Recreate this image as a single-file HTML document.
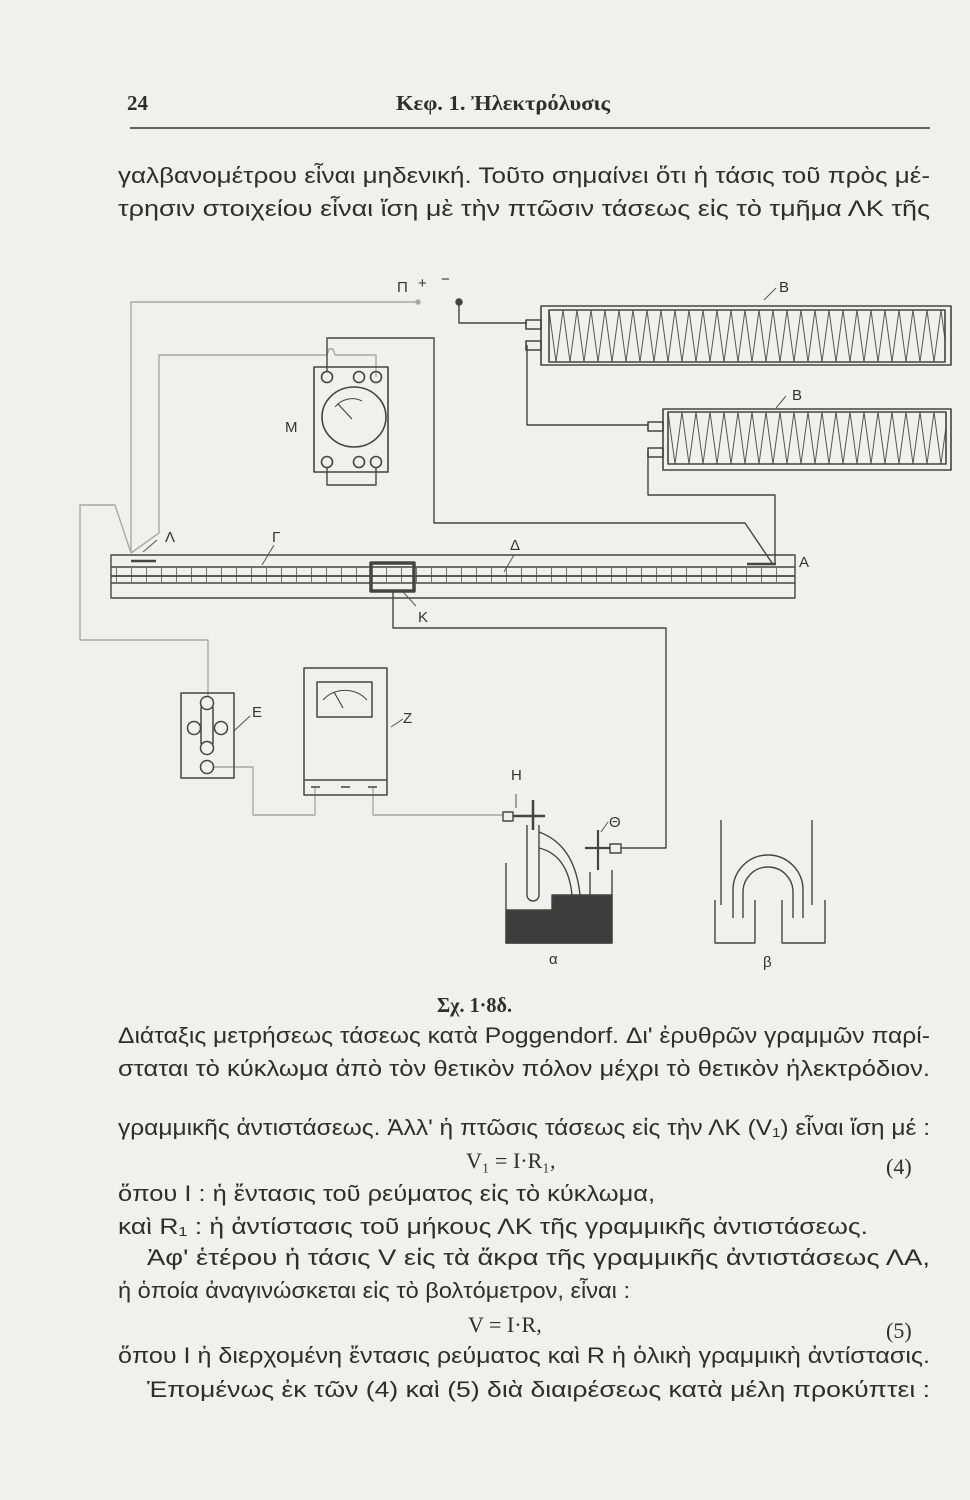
<!DOCTYPE html>
<html><head><meta charset="utf-8"><style>
html,body{margin:0;padding:0;background:#f0f0ee;}
svg{display:block}
.t{font-family:"Liberation Sans","DejaVu Sans",sans-serif;font-size:22px;fill:#2e2e2e}
.s{font-family:"Liberation Serif","DejaVu Serif",serif;fill:#2e2e2e}
.l{font-family:"Liberation Sans","DejaVu Sans",sans-serif;font-size:15px;fill:#333}
</style></head><body>
<svg width="970" height="1500" viewBox="0 0 970 1500" xmlns="http://www.w3.org/2000/svg">
<defs>
<pattern id="z1" x="549" y="310" width="14" height="52" patternUnits="userSpaceOnUse"><polyline points="0,0 7,52 14,0" fill="none" stroke="#555" stroke-width="1"/></pattern>
<pattern id="z2" x="668" y="412" width="14" height="52" patternUnits="userSpaceOnUse"><polyline points="0,0 7,52 14,0" fill="none" stroke="#555" stroke-width="1"/></pattern>
<pattern id="tk" x="116" y="568" width="15" height="15" patternUnits="userSpaceOnUse"><line x1="0.5" y1="0" x2="0.5" y2="15" stroke="#777" stroke-width="1"/></pattern>
</defs>
<rect width="970" height="1500" fill="#f0f0ee"/>
<!-- header -->
<text x="127" y="110" class="s" font-size="21" font-weight="bold">24</text>
<text x="396" y="110" class="s" font-size="21" font-weight="bold" textLength="214" lengthAdjust="spacingAndGlyphs">Κεφ. 1. Ἠλεκτρόλυσις</text>
<line x1="130" y1="128" x2="930" y2="128" stroke="#333" stroke-width="1.5"/>
<text x="118" y="183" class="t" textLength="812" lengthAdjust="spacingAndGlyphs">γαλβανομέτρου εἶναι μηδενική. Τοῦτο σημαίνει ὅτι ἡ τάσις τοῦ πρὸς μέ-</text>
<text x="118" y="216" class="t" textLength="812" lengthAdjust="spacingAndGlyphs">τρησιν στοιχείου εἶναι ἴση μὲ τὴν πτῶσιν τάσεως εἰς τὸ τμῆμα ΛΚ τῆς</text>

<!-- diagram -->
<g fill="none" stroke-linejoin="round">
<g stroke="#a8a8a8" stroke-width="1.4">
<polyline points="418,302 131,302 131,553"/>
<circle cx="418" cy="302" r="2" fill="#a8a8a8"/>
<polyline points="376,377 376,355 335,355 333,349 329,349 327,355 159,355 159,533 131,553"/>
<polyline points="80,640 80,505 115,505 131,553"/>
<polyline points="80,640 208,640 208,696"/>
<polyline points="214,767 253,767 253,815 315,815 315,787"/>
<polyline points="373,787 373,815 503,815"/>
</g>
<g stroke="#444" stroke-width="1.4">
<circle cx="459" cy="302" r="3" fill="#444"/>
<polyline points="459,302 459,323 527,323"/>
<polyline points="527,345 527,425 648,425"/>
<polyline points="648,452 648,495 775,495 775,565"/>
<polyline points="327,371 327,338 434,338 434,523 745,523 772,563"/>
<polyline points="327,468 327,485 376,485 376,468"/>
<polyline points="393,591 393,628 666,628 666,848 621,848"/>
</g>
<g stroke="#444" stroke-width="1.6">
<rect x="541" y="306" width="410" height="59"/>
<rect x="549" y="310" width="396" height="52" fill="url(#z1)"/>
<rect x="526" y="320" width="15" height="9"/>
<rect x="526" y="341" width="15" height="9"/>
<rect x="663" y="409" width="288" height="61"/>
<rect x="668" y="412" width="278" height="52" fill="url(#z2)"/>
<rect x="648" y="422" width="15" height="9"/>
<rect x="648" y="448" width="15" height="9"/>
</g>
<g stroke="#444" stroke-width="1.6">
<rect x="314" y="367" width="74" height="105"/>
<ellipse cx="354" cy="417" rx="32" ry="30"/>
<circle cx="327" cy="377" r="5.5"/><circle cx="359" cy="377" r="5.5"/><circle cx="376" cy="377" r="5.5"/>
<circle cx="327" cy="462" r="5.5"/><circle cx="359" cy="462" r="5.5"/><circle cx="376" cy="462" r="5.5"/>
<path d="M335,407 A22,22 0 0 1 362,401" stroke-width="1"/>
<line x1="338" y1="404" x2="352" y2="419" stroke-width="1.2"/>
</g>
<g stroke="#444" stroke-width="1.4">
<rect x="111" y="555" width="684" height="43"/>
<line x1="111" y1="567" x2="795" y2="567"/>
<line x1="111" y1="583" x2="795" y2="583"/>
<rect x="116" y="568" width="675" height="15" fill="url(#tk)" stroke="none"/>
<line x1="111" y1="576" x2="795" y2="576" stroke-width="1.8"/>
<line x1="131" y1="561" x2="156" y2="561" stroke-width="2.5"/>
<line x1="747" y1="564" x2="776" y2="564" stroke-width="2.5"/>
<rect x="371" y="563" width="43" height="28" stroke-width="3.5"/>
</g>
<g stroke="#555" stroke-width="1">
<line x1="143" y1="552" x2="157" y2="540"/>
<line x1="262" y1="565" x2="274" y2="545"/>
<line x1="504" y1="572" x2="514" y2="555"/>
<line x1="403" y1="592" x2="416" y2="606"/>
<line x1="764" y1="300" x2="776" y2="288"/>
<line x1="776" y1="408" x2="786" y2="396"/>
<line x1="234" y1="731" x2="250" y2="716"/>
<line x1="391" y1="727" x2="403" y2="719"/>
<line x1="516" y1="794" x2="516" y2="808"/>
<line x1="601" y1="832" x2="608" y2="822"/>
</g>
<g stroke="#444" stroke-width="1.5">
<rect x="181" y="693" width="53" height="85"/>
<rect x="201" y="703" width="12" height="45" rx="6"/>
<circle cx="207" cy="703" r="6.5" fill="#f0f0ee"/><circle cx="207" cy="748" r="6.5" fill="#f0f0ee"/>
<circle cx="194" cy="728" r="6.5"/><circle cx="221" cy="728" r="6.5"/>
<circle cx="207" cy="767" r="6.5"/>
</g>
<g stroke="#444" stroke-width="1.5">
<rect x="304" y="668" width="83" height="127"/>
<rect x="317" y="682" width="55" height="35"/>
<line x1="304" y1="780" x2="387" y2="780"/>
<line x1="311" y1="787" x2="320" y2="787"/><line x1="341" y1="787" x2="350" y2="787"/><line x1="368" y1="787" x2="377" y2="787"/>
<path d="M323,700 A30,30 0 0 1 367,700" stroke-width="1"/>
<line x1="334" y1="692" x2="343" y2="708" stroke-width="1.2"/>
</g>
<g stroke="#444" stroke-width="1.4">
<path d="M506,863 V943 H612 V870"/>
<path d="M506,910 H552 V895 H612 V943 H506 Z" fill="#3d3d3d"/>
<rect x="503" y="812" width="10" height="9"/>
<line x1="513" y1="816" x2="545" y2="816" stroke-width="2.5"/>
<line x1="533" y1="800" x2="533" y2="830" stroke-width="2.5"/>
<path d="M527,825 V895 A6,6 0 0 0 539,895 V825"/>
<path d="M539,832 Q575,845 580,895 M539,848 Q568,855 572,895"/>
<line x1="590" y1="895" x2="590" y2="872"/>
<rect x="610" y="844" width="11" height="9"/>
<line x1="585" y1="848" x2="610" y2="848" stroke-width="2.2"/>
<line x1="598" y1="830" x2="598" y2="870" stroke-width="2.2"/>
</g>
<g stroke="#444" stroke-width="1.4">
<path d="M715,900 V943 H755 V900"/>
<path d="M782,900 V943 H825 V900"/>
<line x1="721" y1="820" x2="721" y2="905"/>
<line x1="812" y1="820" x2="812" y2="905"/>
<path d="M733,918 V890 A35,35 0 0 1 803,890 V918"/>
<path d="M743,918 V892 A25,25 0 0 1 793,892 V918"/>
</g>
</g>
<text x="397" y="292" class="l" font-size="17">Π</text>
<text x="418" y="288" class="l" font-size="24">+</text>
<text x="441" y="284" class="l" font-size="24">−</text>
<text x="779" y="292" class="l" font-size="16">B</text>
<text x="792" y="400" class="l" font-size="16">B</text>
<text x="285" y="432" class="l" font-size="16">M</text>
<text x="165" y="542" class="l" font-size="16">Λ</text>
<text x="272" y="542" class="l" font-size="16">Γ</text>
<text x="510" y="550" class="l" font-size="16">Δ</text>
<text x="799" y="567" class="l" font-size="16">A</text>
<text x="418" y="622" class="l" font-size="16">K</text>
<text x="252" y="717" class="l" font-size="16">E</text>
<text x="403" y="723" class="l" font-size="16">Z</text>
<text x="511" y="780" class="l" font-size="16">H</text>
<text x="609" y="827" class="l" font-size="16">Θ</text>
<text x="549" y="964" class="l" font-size="16">α</text>
<text x="763" y="967" class="l" font-size="16">β</text>
<text x="437" y="1012" class="s" font-size="21" font-weight="bold" textLength="75" lengthAdjust="spacingAndGlyphs">Σχ. 1·8δ.</text>
<text x="118" y="1043" class="t" textLength="812" lengthAdjust="spacingAndGlyphs">Διάταξις μετρήσεως τάσεως κατὰ Poggendorf. Δι' ἐρυθρῶν γραμμῶν παρί-</text>
<text x="118" y="1076" class="t" textLength="812" lengthAdjust="spacingAndGlyphs">σταται τὸ κύκλωμα ἀπὸ τὸν θετικὸν πόλον μέχρι τὸ θετικὸν ἠλεκτρόδιον.</text>
<text x="118" y="1135" class="t" textLength="812" lengthAdjust="spacingAndGlyphs">γραμμικῆς ἀντιστάσεως. Ἀλλ' ἡ πτῶσις τάσεως εἰς τὴν ΛΚ (V₁) εἶναι ἴση μέ :</text>
<text x="466" y="1168" class="s" font-size="22">V₁ = I·R₁,</text>
<text x="886" y="1174" class="s" font-size="22">(4)</text>
<text x="118" y="1201" class="t" textLength="537" lengthAdjust="spacingAndGlyphs">ὅπου I : ἡ ἔντασις τοῦ ρεύματος εἰς τὸ κύκλωμα,</text>
<text x="118" y="1234" class="t" textLength="750" lengthAdjust="spacingAndGlyphs">καὶ R₁ : ἡ ἀντίστασις τοῦ μήκους ΛΚ τῆς γραμμικῆς ἀντιστάσεως.</text>
<text x="147" y="1265" class="t" textLength="783" lengthAdjust="spacingAndGlyphs">Ἀφ' ἑτέρου ἡ τάσις V εἰς τὰ ἄκρα τῆς γραμμικῆς ἀντιστάσεως ΛΑ,</text>
<text x="118" y="1298" class="t" textLength="512" lengthAdjust="spacingAndGlyphs">ἡ ὁποία ἀναγινώσκεται εἰς τὸ βολτόμετρον, εἶναι :</text>
<text x="468" y="1332" class="s" font-size="22">V = I·R,</text>
<text x="886" y="1338" class="s" font-size="22">(5)</text>
<text x="118" y="1363" class="t" textLength="812" lengthAdjust="spacingAndGlyphs">ὅπου I ἡ διερχομένη ἔντασις ρεύματος καὶ R ἡ ὁλικὴ γραμμικὴ ἀντίστασις.</text>
<text x="147" y="1397" class="t" textLength="783" lengthAdjust="spacingAndGlyphs">Ἑπομένως ἐκ τῶν (4) καὶ (5) διὰ διαιρέσεως κατὰ μέλη προκύπτει :</text>
</svg>
</body></html>
